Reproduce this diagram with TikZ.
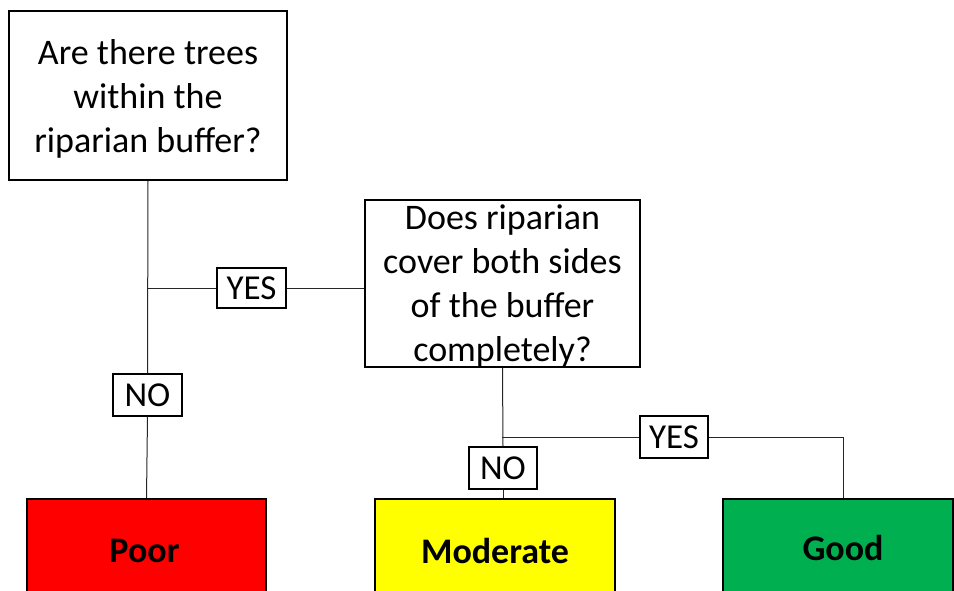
\documentclass[tikz,border=0pt]{standalone}
\usepackage{fontspec}
\setmainfont{Carlito}
\definecolor{poorred}{HTML}{FF0000}
\definecolor{modyellow}{HTML}{FFFF00}
\definecolor{goodgreen}{HTML}{00B050}
\begin{document}
\begin{tikzpicture}[x=1pt,y=-1pt,
  qbox/.style={draw=black,line width=1.6pt,align=center,inner sep=0pt,
    font=\fontsize{36}{44}\selectfont},
  lbl/.style={draw=black,line width=1.3pt,fill=white,inner sep=0pt,
    font=\fontsize{35}{40}\selectfont},
  res/.style={draw=black,line width=1.6pt,anchor=north,inner sep=0pt,
    font=\bfseries\fontsize{36}{40}\selectfont},
  conn/.style={draw=black!85,line width=1pt}]
\useasboundingbox (0,0) rectangle (954,590);
\node[qbox,minimum width=278pt,minimum height=169pt] (q1) at (148,95.5)
  {\raisebox{-3.5pt}[\height][\depth]{\parbox{270pt}{\centering Are there trees\\within the\\riparian buffer?}}};
\node[qbox,minimum width=275pt,minimum height=167pt] (q2) at (502.5,283.5)
  {\raisebox{-2.5pt}[\height][\depth]{\parbox{270pt}{\centering Does riparian\\cover both sides\\of the buffer\\completely?}}};
\node[res,fill=poorred,minimum width=239pt,minimum height=104pt] (poor) at (146.5,498) {\hspace*{-4pt}Poor};
\node[res,fill=modyellow,minimum width=240pt,minimum height=104pt] (mod) at (495,498) {Moderate};
\node[res,fill=goodgreen,minimum width=230pt,minimum height=98pt] (good) at (838,498) {\hspace*{10pt}Good};
\node[lbl,minimum width=69pt,minimum height=40pt] (yes1) at (251.5,288) {YES};
\node[lbl,minimum width=69pt,minimum height=42pt] (no1) at (147.5,395) {NO};
\node[lbl,minimum width=68pt,minimum height=42pt] (yes2) at (674,437) {YES};
\node[lbl,minimum width=68pt,minimum height=42pt] (no2) at (503,468) {NO};
\coordinate (j1) at (148,288);
\coordinate (j2) at (502,437);
\coordinate (c3) at (843,437);
\draw[conn] (q1.south) -- (no1.north);
\draw[conn] (no1.south) -- (poor.north);
\draw[conn] (j1) -- (yes1.west);
\draw[conn] (yes1.east) -- (yes1.east -| q2.west);
\draw[conn] (q2.south) -- (no2.north);
\draw[conn] (no2.south) -- (no2.south |- mod.north);
\draw[conn] (j2) -- (yes2.west);
\draw[conn] (yes2.east) -- (c3);
\draw[conn] (c3) -- (c3 |- good.north);
\end{tikzpicture}
\end{document}
